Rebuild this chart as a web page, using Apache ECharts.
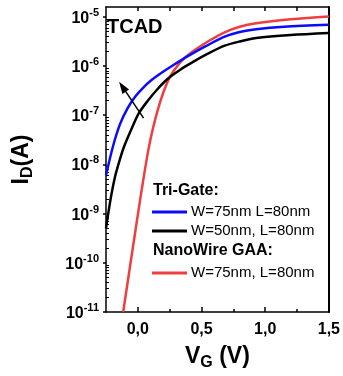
<!DOCTYPE html>
<html>
<head>
<meta charset="utf-8">
<script src="https://cdn.jsdelivr.net/npm/echarts@6/dist/echarts.min.js"></script>
<style>
html,body{margin:0;padding:0;background:#fff;}
#c{width:343px;height:376px;}
</style>
</head>
<body>
<div id="c"></div>
<script>
// ---- data (gate voltage in V, drain current in A) ----
var triGate75Vg = [-0.25,-0.195,-0.14,-0.081,-0.02,0.045,0.11,0.172,0.28,0.386,0.53,0.677,0.8,0.929,1.15,1.5];
var triGate75Id = [6.0e-9,2.34e-8,6.6e-8,1.38e-7,2.4e-7,3.7e-7,5.25e-7,6.9e-7,1.05e-6,1.55e-6,2.5e-6,3.9e-6,4.9e-6,5.6e-6,6.3e-6,6.9e-6];

var triGate50Vg = [-0.25,-0.215,-0.18,-0.145,-0.11,-0.05,0.008,0.08,0.15,0.235,0.33,0.424,0.55,0.677,0.8,0.929,1.2,1.5];
var triGate50Id = [5.0e-10,1.9e-9,5.5e-9,1.17e-8,2.24e-8,5.25e-8,1.1e-7,2.0e-7,3.3e-7,5.5e-7,8.3e-7,1.17e-6,1.78e-6,2.57e-6,3.16e-6,3.7e-6,4.27e-6,4.7e-6];

var gaa75Vg = [-0.115,-0.06,0,0.04,0.083,0.12,0.16,0.2,0.25,0.31,0.37,0.45,0.55,0.677,0.8,0.929,1.2,1.5];
var gaa75Id = [1.0e-11,8.9e-11,9.5e-10,4.4e-9,2.0e-8,5.6e-8,1.38e-7,2.9e-7,5.9e-7,1.0e-6,1.48e-6,2.14e-6,3.16e-6,4.8e-6,6.3e-6,7.4e-6,8.9e-6,1.02e-5];

var seriesNames = ['W=75nm L=80nm', 'W=50nm, L=80nm', 'W=75nm, L=80nm'];
var groupHeaders = ['Tri-Gate:', 'NanoWire GAA:'];

var xTickLabels = [0, 0.5, 1.0, 1.5];
var xMinorTicks = [0.25, 0.75, 1.25];
var xTopTicks = [0, 0.25, 0.5, 0.75, 1.0, 1.25];
var yDecades = [-11, -10, -9, -8, -7, -6, -5];   // exponents of 10

var arrowFrom = [0.045, 8.7e-8];
var arrowTo = [-0.121, 3.8e-7];

// ---- helpers ----
function toPts(vg, id) { return vg.map(function (v, i) { return [v, Math.log10(id[i])]; }); }
var yMin = -11, yMax = -4.8, xMin = -0.25, xMax = 1.5;
var yMinor = [];
yDecades.forEach(function (e) {
  for (var k = 2; k <= 9; k++) {
    var lv = e + Math.log10(k);
    if (lv < yMax) yMinor.push(lv);
  }
});

var FONT = '"Liberation Sans", Arial, sans-serif';
var chart = echarts.init(document.getElementById('c'), null, { renderer: 'canvas' });

var titleRich = {
  a: { fontFamily: FONT, fontWeight: 'bold', fontSize: 23, color: '#000', verticalAlign: 'top', lineHeight: 26 },
  s: { fontFamily: FONT, fontWeight: 'bold', fontSize: 16, color: '#000', verticalAlign: 'bottom', lineHeight: 16, padding: [12, 0, 0, 0] }
};

var option = {
  animation: false,
  backgroundColor: '#fff',
  textStyle: { fontFamily: FONT },
  grid: { left: 101, right: 12, top: 7, bottom: 61, containLabel: false },
  xAxis: [
    {
      type: 'value', position: 'bottom', min: xMin, max: xMax,
      axisLine: { show: true, onZero: false, lineStyle: { color: '#000', width: 1.5 } },
      axisTick: { show: true, inside: true, length: 5, customValues: xTickLabels, lineStyle: { color: '#000', width: 1.5 } },
      axisLabel: {
        show: true, customValues: xTickLabels, margin: 10, color: '#000',
        fontFamily: FONT, fontWeight: 'bold', fontSize: 16,
        formatter: function (v) { return v.toFixed(1).replace('.', ','); }
      },
      splitLine: { show: false },
      name: '{a|V}{s|G}{a| (V)}', nameLocation: 'middle', nameGap: 33,
      nameTextStyle: { rich: titleRich }
    },
    {
      type: 'value', position: 'bottom', min: xMin, max: xMax,
      axisLine: { show: false, onZero: false },
      axisTick: { show: true, inside: true, length: 3, customValues: xMinorTicks, lineStyle: { color: '#000', width: 1.5 } },
      axisLabel: { show: false }, splitLine: { show: false }
    },
    {
      type: 'value', position: 'top', min: xMin, max: xMax,
      axisLine: { show: true, onZero: false, lineStyle: { color: '#000', width: 1.5 } },
      axisTick: { show: true, inside: true, length: 4, customValues: xTopTicks, lineStyle: { color: '#000', width: 1.5 } },
      axisLabel: { show: false }, splitLine: { show: false }
    }
  ],
  yAxis: [
    {
      type: 'value', position: 'left', min: yMin, max: yMax,
      axisLine: { show: true, onZero: false, lineStyle: { color: '#000', width: 1.5 } },
      axisTick: { show: true, inside: false, length: 3, customValues: yDecades, lineStyle: { color: '#000', width: 1.5 } },
      axisLabel: {
        show: true, customValues: yDecades, margin: 7, color: '#000',
        formatter: function (v) { return '{b|10}{s|' + Math.round(v) + '}'; },
        rich: {
          b: { fontFamily: FONT, fontWeight: 'bold', fontSize: 16, color: '#000', verticalAlign: 'bottom', lineHeight: 19 },
          s: { fontFamily: FONT, fontWeight: 'bold', fontSize: 11, color: '#000', verticalAlign: 'top', lineHeight: 11, padding: [0, 0, 6, 0] }
        }
      },
      splitLine: { show: false },
      name: '{a|I}{s|D}{a|(A)}', nameLocation: 'middle', nameGap: 70, nameRotate: 90,
      nameTextStyle: { rich: titleRich }
    },
    {
      type: 'value', position: 'left', min: yMin, max: yMax,
      axisLine: { show: false, onZero: false },
      axisTick: { show: true, inside: true, length: 3, customValues: yMinor, lineStyle: { color: '#000', width: 1 } },
      axisLabel: { show: false }, splitLine: { show: false }
    },
    {
      type: 'value', position: 'right', min: yMin, max: yMax,
      axisLine: { show: true, onZero: false, lineStyle: { color: '#000', width: 2 } },
      axisTick: { show: false }, axisLabel: { show: false }, splitLine: { show: false }
    }
  ],
  legend: [
    {
      data: [seriesNames[0], seriesNames[1]], orient: 'vertical', left: 152, top: 203,
      padding: 0, itemGap: 1, itemWidth: 35, itemHeight: 3, icon: 'rect', selectedMode: false,
      textStyle: { fontFamily: FONT, fontSize: 15, color: '#000', lineHeight: 18, padding: [0, 0, 0, -1] }
    },
    {
      data: [seriesNames[2]], orient: 'vertical', left: 152, top: 264,
      padding: 0, itemGap: 1, itemWidth: 35, itemHeight: 3, icon: 'rect', selectedMode: false,
      textStyle: { fontFamily: FONT, fontSize: 15, color: '#000', lineHeight: 18, padding: [0, 0, 0, -1] }
    }
  ],
  graphic: [
    { type: 'text', left: 107, top: 17, style: { text: 'TCAD', font: 'bold 20px ' + FONT, fill: '#000' } },
    { type: 'text', left: 153, top: 183, style: { text: groupHeaders[0], font: 'bold 16px ' + FONT, fill: '#000' } },
    { type: 'text', left: 153, top: 243, style: { text: groupHeaders[1], font: 'bold 16px ' + FONT, fill: '#000' } }
  ],
  series: [
    {
      name: seriesNames[2], type: 'line', data: toPts(gaa75Vg, gaa75Id),
      xAxisIndex: 0, yAxisIndex: 0, showSymbol: false, smooth: 0.3, clip: true,
      lineStyle: { color: '#ef3e3e', width: 2.5 }, itemStyle: { color: '#ef3e3e' }
    },
    {
      name: seriesNames[0], type: 'line', data: toPts(triGate75Vg, triGate75Id),
      xAxisIndex: 0, yAxisIndex: 0, showSymbol: false, smooth: 0.3, clip: true,
      lineStyle: { color: '#0a0aff', width: 2.5 }, itemStyle: { color: '#0a0aff' }
    },
    {
      name: seriesNames[1], type: 'line', data: toPts(triGate50Vg, triGate50Id),
      xAxisIndex: 0, yAxisIndex: 0, showSymbol: false, smooth: 0.3, clip: true,
      lineStyle: { color: '#000', width: 2.5 }, itemStyle: { color: '#000' },
      markLine: {
        silent: true, symbol: ['none', 'triangle'], symbolSize: [8, 12],
        label: { show: false },
        lineStyle: { color: '#000', width: 1.5, type: 'solid' },
        data: [[
          { coord: [arrowFrom[0], Math.log10(arrowFrom[1])] },
          { coord: [arrowTo[0], Math.log10(arrowTo[1])] }
        ]]
      }
    }
  ]
};
chart.setOption(option);
</script>
</body>
</html>
